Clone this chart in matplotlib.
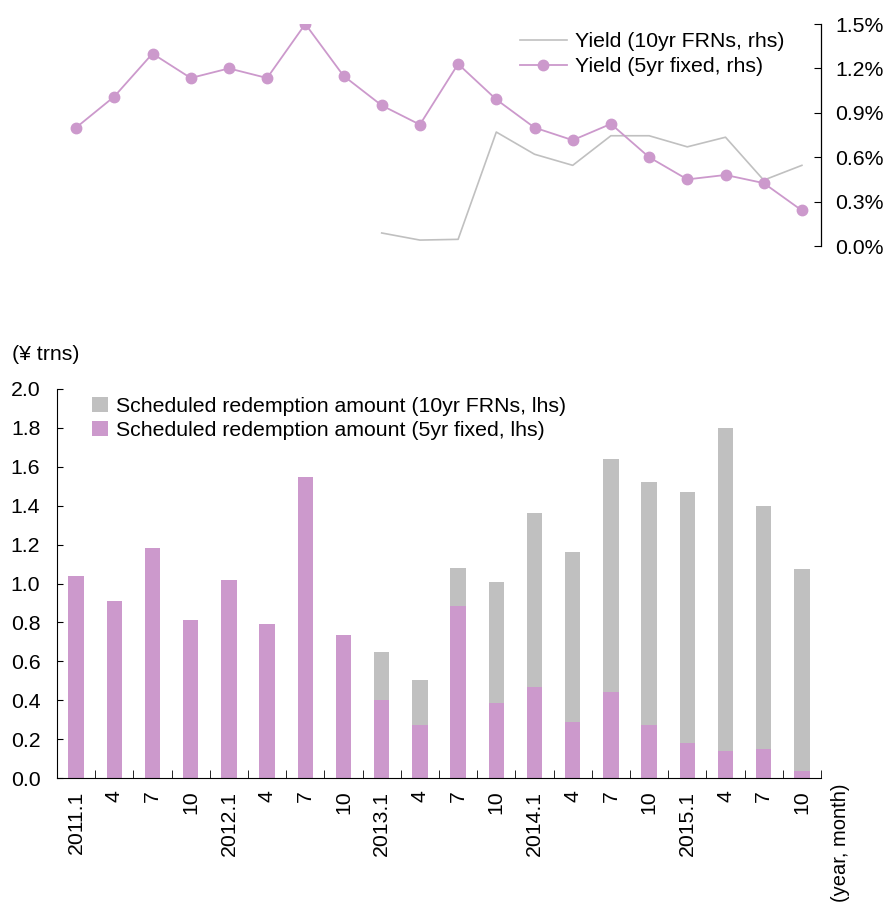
import numpy as np
import matplotlib
matplotlib.use("Agg")
import matplotlib.pyplot as plt

plt.rcParams['font.family'] = ['Liberation Sans', 'DejaVu Sans']

# quarterly redemption schedule, 2011.1 - 2015.10
periods = ['2011.1', '4', '7', '10', '2012.1', '4', '7', '10', '2013.1', '4',
           '7', '10', '2014.1', '4', '7', '10', '2015.1', '4', '7', '10']
redeem_fixed = [1.04, 0.91, 1.18, 0.81, 1.02, 0.79, 1.55, 0.735, 0.40, 0.27,
                0.885, 0.385, 0.47, 0.29, 0.44, 0.27, 0.18, 0.14, 0.15, 0.035]
redeem_frn = [0.0, 0.0, 0.0, 0.0, 0.0, 0.0, 0.0, 0.0, 0.25, 0.235,
              0.195, 0.625, 0.89, 0.87, 1.20, 1.25, 1.29, 1.66, 1.25, 1.04]
# yields in %
yield_fixed = [0.80, 1.01, 1.30, 1.135, 1.20, 1.135, 1.50, 1.15, 0.95, 0.82,
               1.23, 0.99, 0.80, 0.715, 0.825, 0.60, 0.45, 0.48, 0.425, 0.24]
yield_frn = [np.nan] * 8 + [0.088, 0.04, 0.045, 0.77, 0.62, 0.545, 0.745,
                            0.745, 0.67, 0.735, 0.445, 0.545]

purple = '#CC99CC'
grey = '#C0C0C0'
fs = 15.3

x = np.arange(len(periods))
fig = plt.figure(figsize=(8.86, 9.05), dpi=100)

# top panel: yields on the right-hand axis
ax1 = fig.add_axes([57/886, 1-246/905, 764/886, 222/905])
ax1.plot(x, yield_frn, color=grey, lw=1.2, label='Yield (10yr FRNs, rhs)')
ax1.plot(x, yield_fixed, color=purple, lw=1.3, marker='o', ms=7.5,
         label='Yield (5yr fixed, rhs)')
ax1.set_xlim(-0.5, len(periods) - 0.5)
ax1.set_ylim(0, 1.5)
ax1.yaxis.tick_right()
ax1.set_yticks(np.arange(0, 1.51, 0.3))
ax1.set_yticklabels(['%.1f%%' % v for v in np.arange(0, 1.51, 0.3)])
ax1.tick_params(axis='y', direction='in', length=5, labelsize=fs, pad=10)
ax1.set_xticks([])
for s in ['left', 'top', 'bottom']:
    ax1.spines[s].set_visible(False)
ax1.spines['right'].set_linewidth(0.9)
ax1.legend(loc='upper left', bbox_to_anchor=(520/886, 1-32/905),
           bbox_transform=fig.transFigure, frameon=False, fontsize=fs,
           handlelength=2.2, handletextpad=0.4, labelspacing=0.3,
           borderpad=0, borderaxespad=0)

# bottom panel: stacked redemption amounts
ax2 = fig.add_axes([57/886, 1-778/905, 764/886, 389/905])
ax2.bar(x, redeem_frn, bottom=redeem_fixed, width=0.4, color=grey,
        label='Scheduled redemption amount (10yr FRNs, lhs)')
ax2.bar(x, redeem_fixed, width=0.4, color=purple,
        label='Scheduled redemption amount (5yr fixed, lhs)')
ax2.set_xlim(-0.5, len(periods) - 0.5)
ax2.set_ylim(0, 2.0)
ax2.set_yticks(np.arange(0, 2.01, 0.2))
ax2.set_yticklabels(['%.1f' % v for v in np.arange(0, 2.01, 0.2)])
ax2.tick_params(axis='y', direction='in', length=4, labelsize=fs, pad=12)
ax2.set_xticks(x)
ax2.set_xticklabels(periods, rotation=90, fontsize=fs)
ax2.tick_params(axis='x', which='major', length=0, pad=9)
ax2.set_xticks(np.arange(-0.5, len(periods)), minor=True)
ax2.tick_params(axis='x', which='minor', direction='in', length=6)
for s in ['top', 'right']:
    ax2.spines[s].set_visible(False)
handles, labels = ax2.get_legend_handles_labels()
ax2.legend(handles, labels, loc='upper left', bbox_to_anchor=(92/886, 1-397/905),
           bbox_transform=fig.transFigure, frameon=False, fontsize=fs,
           handlelength=0.75, handleheight=0.7, handletextpad=0.4,
           labelspacing=0.25, borderpad=0, borderaxespad=0)

fig.text(12/886, 1-355/905, '(¥ trns)', fontsize=fs, va='center', ha='left')
fig.text(840/886, 1-783/905, '(year, month)', fontsize=14.5, rotation=90,
         va='top', ha='center')

fig.savefig('out.png', dpi=100)
